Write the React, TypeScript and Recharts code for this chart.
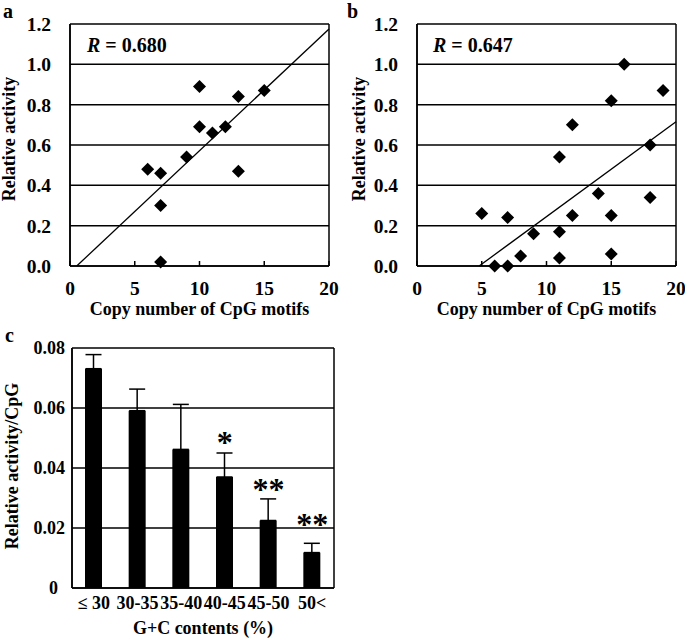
// CpG motif activity figure: panels a, b (scatter + fit) and c (bars)
import {
  ScatterChart,
  Scatter,
  ComposedChart,
  Bar,
  ErrorBar,
  XAxis,
  YAxis,
  CartesianGrid,
  ReferenceLine,
  Label,
} from "recharts";

// panel a
const aCopies = [10, 13, 15, 10, 11, 12, 9, 6, 7, 13, 7, 7];
const aActivity = [0.89, 0.84, 0.87, 0.69, 0.66, 0.69, 0.54, 0.48, 0.46, 0.47, 0.3, 0.02];
const aFit = [
  { x: 0.52, y: 0 },
  { x: 20, y: 1.175 },
];

// panel b
const bCopies = [16, 19, 15, 12, 11, 18, 14, 18, 5, 7, 12, 15, 9, 11, 8, 11, 15, 6, 7];
const bActivity = [
  1.0, 0.87, 0.82, 0.7, 0.54, 0.6, 0.36, 0.34, 0.26, 0.24, 0.25, 0.25, 0.16, 0.17, 0.05, 0.04,
  0.06, 0.0, 0.0,
];
const bFit = [
  { x: 4.8, y: 0 },
  { x: 20, y: 0.715 },
];

const copyTicks = [0, 5, 10, 15, 20];
const activityTicks = [0, 0.2, 0.4, 0.6, 0.8, 1.0, 1.2];

// panel c
const gcRanges = ["≤ 30", "30-35", "35-40", "40-45", "45-50", "50<"];
const meanPerCpG = [0.0731, 0.0591, 0.0462, 0.037, 0.0225, 0.0118];
const sdPerCpG = [0.0047, 0.0072, 0.015, 0.008, 0.0072, 0.0031];
const significance = ["", "", "", "*", "**", "**"];
const sigHeight = [0, 0, 0, 0.0501, 0.0344, 0.0228];
const perCpGTicks = [0, 0.02, 0.04, 0.06, 0.08];

const FONT = "'Liberation Serif', 'Times New Roman', serif";
const tickStyle = { fill: "#000", fontSize: 19.5, fontWeight: 700, fontFamily: FONT };
const cTickStyle = { ...tickStyle, fontSize: 18 };
const titleProps = { fill: "#000", fontSize: 18, fontWeight: 700, fontFamily: FONT };
const line = { stroke: "#000", strokeWidth: 1.5 };

const aPoints = aCopies.map((c, i) => ({ copies: c, activity: aActivity[i] }));
const bPoints = bCopies.map((c, i) => ({ copies: c, activity: bActivity[i] }));
const cRows = gcRanges.map((r, i) => ({
  range: r,
  mean: meanPerCpG[i],
  err: [0, sdPerCpG[i]],
  sig: significance[i],
  sigY: sigHeight[i],
}));

// left and right edges of the plot, so the grid closes into a box
const frameSides = ({ offset }: any) => [offset.left, offset.left + offset.width];

const Diamond = (p: any) => (
  <polygon
    points={`${p.cx},${p.cy - 6.5} ${p.cx + 6.5},${p.cy} ${p.cx},${p.cy + 6.5} ${p.cx - 6.5},${p.cy}`}
    fill="#000"
  />
);

const Stars = (p: any) => {
  if (!p.payload || !p.payload.sig) return <g />;
  return (
    <text
      x={p.cx}
      y={p.cy + 15}
      textAnchor="middle"
      fontSize={32}
      fontWeight={700}
      fontFamily={FONT}
      fill="#000"
    >
      {p.payload.sig}
    </text>
  );
};

// the zero label in panel c sits a little left of the others
const PerCpGTick = (p: any) => {
  const v = p.payload.value;
  return (
    <text x={v === 0 ? p.x - 7 : p.x} y={p.y} dy="0.355em" textAnchor="end" {...cTickStyle}>
      {v === 0 ? "0" : v.toFixed(2)}
    </text>
  );
};

const yTitle = (text: string, x: number, shift = 0) => (props: any) => {
  const vb = props.viewBox || { y: 24, height: 242 };
  const cy = vb.y + vb.height / 2 + shift;
  return (
    <text x={x} y={cy} transform={`rotate(-90 ${x} ${cy})`} textAnchor="middle" {...titleProps}>
      {text}
    </text>
  );
};

function CopyScatter({
  points,
  fit,
  r,
  panel,
  yAxisWidth,
  titleX,
  rX,
  panelX,
}: {
  points: { copies: number; activity: number }[];
  fit: { x: number; y: number }[];
  r: string;
  panel: string;
  yAxisWidth: number;
  titleX: number;
  rX: number;
  panelX: number;
}) {
  return (
    <ScatterChart
      width={yAxisWidth + 259 + 11}
      height={320}
      margin={{ top: 24, right: 11, bottom: 0, left: 0 }}
    >
      <CartesianGrid {...line} verticalCoordinatesGenerator={frameSides} />
      <XAxis
        type="number"
        dataKey="copies"
        domain={[0, 20]}
        ticks={copyTicks}
        height={54}
        tickSize={-5}
        tickMargin={20}
        tick={tickStyle}
        axisLine={line}
        tickLine={line}
        label={{
          value: "Copy number of CpG motifs",
          position: "insideBottom",
          offset: 5,
          ...titleProps,
        }}
      />
      <YAxis
        type="number"
        dataKey="activity"
        domain={[0, 1.2]}
        ticks={activityTicks}
        tickFormatter={(v: number) => v.toFixed(1)}
        width={yAxisWidth}
        tickLine={false}
        tickSize={0}
        tickMargin={19}
        tick={tickStyle}
        axisLine={line}
      >
        <Label content={yTitle("Relative activity", titleX, -6)} />
      </YAxis>
      <ReferenceLine segment={fit} stroke="#000" strokeWidth={1.3} />
      <Scatter data={points} shape={Diamond} isAnimationActive={false} />
      <text x={rX} y={52} fontSize={20} fontWeight={700} fontFamily={FONT} fill="#000">
        <tspan fontStyle="italic">R</tspan>
        {` = ${r}`}
      </text>
      <text x={panelX} y={18} fontSize={20} fontWeight={700} fontFamily={FONT} fill="#000">
        {panel}
      </text>
    </ScatterChart>
  );
}

export default function App() {
  return (
    <div style={{ position: "absolute", left: 0, top: 0, width: 685, height: 641, background: "#fff" }}>
      <div style={{ position: "absolute", left: 0, top: 0 }}>
        <CopyScatter
          points={aPoints}
          fit={aFit}
          r="0.680"
          panel="a"
          yAxisWidth={70}
          titleX={15}
          rX={87}
          panelX={3}
        />
      </div>
      <div style={{ position: "absolute", left: 340, top: 0 }}>
        <CopyScatter
          points={bPoints}
          fit={bFit}
          r="0.647"
          panel="b"
          yAxisWidth={77}
          titleX={25}
          rX={93}
          panelX={7}
        />
      </div>
      <div style={{ position: "absolute", left: 0, top: 320 }}>
        <ComposedChart
          width={345}
          height={321}
          data={cRows}
          margin={{ top: 28, right: 11, bottom: 0, left: 0 }}
        >
          <CartesianGrid {...line} verticalCoordinatesGenerator={frameSides} />
          <XAxis
            dataKey="range"
            interval={0}
            height={53}
            tickLine={false}
            tickSize={0}
            tickMargin={8}
            tick={cTickStyle}
            axisLine={line}
            label={{ value: "G+C contents (%)", position: "insideBottom", offset: 7, ...titleProps }}
          />
          <YAxis
            type="number"
            domain={[0, 0.08]}
            ticks={perCpGTicks}
            width={72}
            tickLine={false}
            tickSize={0}
            tickMargin={7}
            tick={PerCpGTick}
            axisLine={line}
          >
            <Label content={yTitle("Relative activity/CpG", 18, -2)} />
          </YAxis>
          <Bar dataKey="mean" fill="#000" barSize={17} isAnimationActive={false}>
            <ErrorBar dataKey="err" direction="y" width={8} stroke="#000" strokeWidth={1.5} />
          </Bar>
          <Scatter dataKey="sigY" shape={Stars} isAnimationActive={false} />
          <text x={5} y={22} fontSize={20} fontWeight={700} fontFamily={FONT} fill="#000">
            c
          </text>
        </ComposedChart>
      </div>
    </div>
  );
}
